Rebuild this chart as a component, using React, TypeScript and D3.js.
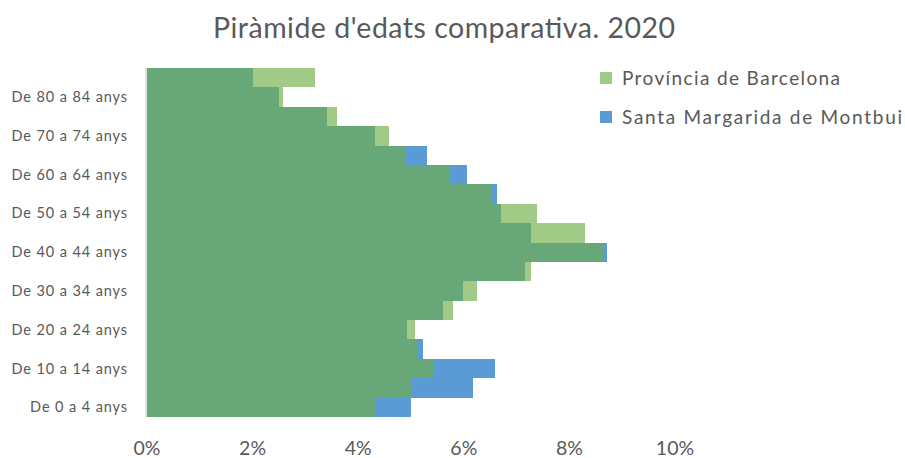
import React from 'react';
import * as d3 from 'd3';

const ages = [
  'De 0 a 4 anys', 'De 5 a 9 anys', 'De 10 a 14 anys', 'De 15 a 19 anys', 'De 20 a 24 anys',
  'De 25 a 29 anys', 'De 30 a 34 anys', 'De 35 a 39 anys', 'De 40 a 44 anys', 'De 45 a 49 anys',
  'De 50 a 54 anys', 'De 55 a 59 anys', 'De 60 a 64 anys', 'De 65 a 69 anys', 'De 70 a 74 anys',
  'De 75 a 79 anys', 'De 80 a 84 anys', 'De 85 anys i més',
];
// % of population per age group
const barcelona = [4.32, 5.0, 5.42, 5.11, 5.08, 5.8, 6.25, 7.27, 8.64, 8.3, 7.39, 6.52, 5.72, 4.89, 4.58, 3.6, 2.58, 3.18];
const montbui = [5.0, 6.17, 6.59, 5.23, 4.92, 5.61, 5.98, 7.16, 8.71, 7.27, 6.7, 6.63, 6.06, 5.3, 4.32, 3.41, 2.5, 2.01];
const xTicks = [0, 2, 4, 6, 8, 10];
const seriesNames = ['Província de Barcelona', 'Santa Margarida de Montbui'];

const W = 905;
const H = 458;
const GREEN = '#70AD47';
const BLUE = '#5B9BD5';
const TEXT = '#595959';
const FONT = 'Lato, "Open Sans", sans-serif';

export default function App() {
  const x = d3.scaleLinear().domain([0, 10]).range([147, 675]);
  const y = d3.scaleBand<string>().domain([...ages].reverse()).range([68, 417]).paddingInner(0);
  const shownAges = ages.filter((_, i) => i % 2 === 0);

  return (
    <svg width={W} height={H} style={{ position: 'absolute', left: 0, top: 0, background: '#fff' }} fontFamily={FONT}>
      <text x={444} y={38} textAnchor="middle" fontSize={28.5} fill={TEXT} textLength={462} lengthAdjust="spacing">
        Piràmide d'edats comparativa. 2020
      </text>

      <g shapeRendering="crispEdges">
        {/* Santa Margarida de Montbui */}
        {montbui.map((v, i) => (
          <rect key={'m' + i} x={x(0)} y={y(ages[i])} width={x(v) - x(0)} height={y.bandwidth()} fill={BLUE} />
        ))}
        {/* Provincia de Barcelona, semi-transparent on top */}
        {barcelona.map((v, i) => (
          <rect key={'b' + i} x={x(0)} y={y(ages[i])} width={x(v) - x(0)} height={y.bandwidth()} fill={GREEN} fillOpacity={0.65} />
        ))}
      </g>

      <line x1={x(0) - 1} x2={x(0) - 1} y1={y.range()[0]} y2={y.range()[1]} stroke="#d9d9d9" strokeWidth={1.5} />

      {shownAges.map(a => (
        <text key={a} x={128} y={(y(a) as number) + y.bandwidth() / 2} dy="0.35em" textAnchor="end" fontSize={14.5} letterSpacing={0.9} fill={TEXT}>
          {a}
        </text>
      ))}

      {xTicks.map(t => (
        <text key={t} x={x(t)} y={455} textAnchor="middle" fontSize={19.5} fill={TEXT}>
          {t}%
        </text>
      ))}

      {seriesNames.map((name, i) => (
        <g key={name} transform={`translate(600,${72 + i * 39})`}>
          {i === 0 ? (
            <rect width={12} height={12} fill={GREEN} fillOpacity={0.65} />
          ) : (
            <rect width={12} height={12} fill={BLUE} />
          )}
          <text x={22} y={6} dy="0.35em" fontSize={19} fill={TEXT} textLength={i === 0 ? 218 : 280} lengthAdjust="spacing">
            {name}
          </text>
        </g>
      ))}
    </svg>
  );
}
